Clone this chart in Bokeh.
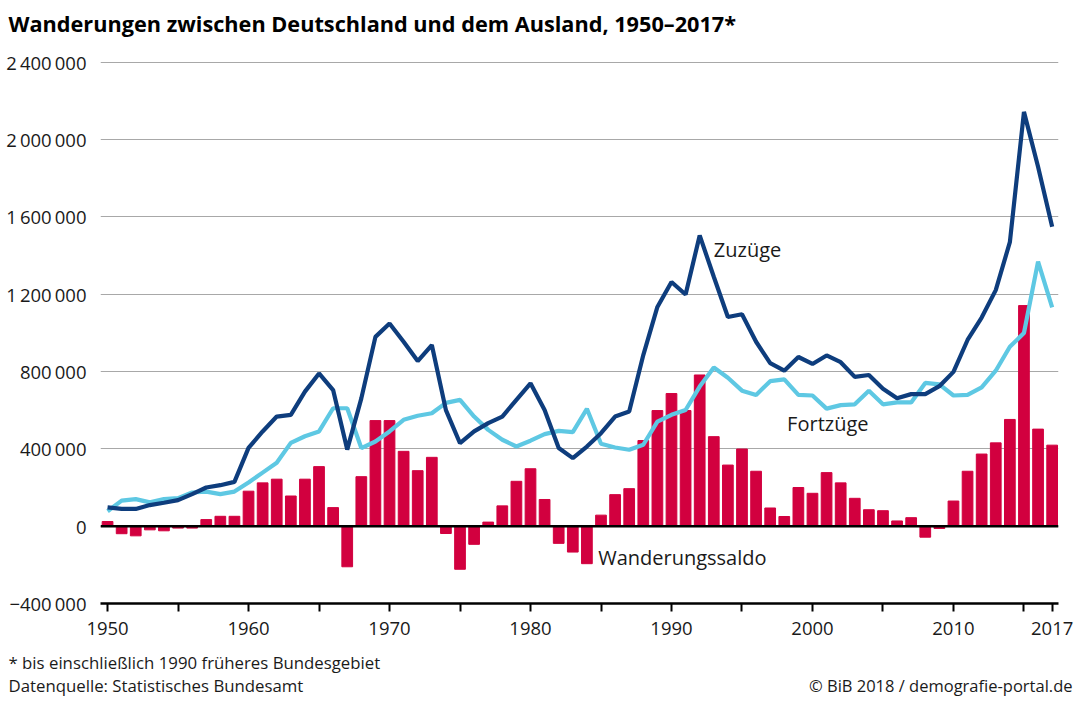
from bokeh.plotting import figure
from bokeh.models import FixedTicker, Span, Label, ColumnDataSource
from bokeh.embed import file_html
from bokeh.resources import INLINE

years = list(range(1950, 2018))

zuzuege = [97000, 89000, 89000, 109000, 121000, 135000, 166000, 200000, 212000, 229000,
           405000, 490000, 567000, 576000, 696000, 790000, 704000, 396000, 661000, 979000,
           1048000, 954000, 854000, 937000, 600000, 429000, 490000, 533000, 567000, 653000,
           739000, 601000, 404000, 352000, 412000, 481000, 567000, 593000, 885000, 1134000,
           1263000, 1198000, 1504000, 1290000, 1082000, 1096000, 954000, 843000, 804000, 875000,
           839000, 883000, 848000, 772000, 782000, 711000, 662000, 683000, 683000, 724000,
           798000, 963000, 1079000, 1221000, 1469000, 2143000, 1859000, 1549000]

fortzuege = [77000, 132000, 140000, 123000, 140000, 145000, 174000, 179000, 166000, 179000,
             226000, 277000, 328000, 431000, 465000, 490000, 610000, 610000, 404000, 438000,
             490000, 550000, 571000, 584000, 638000, 653000, 567000, 498000, 447000, 412000,
             442000, 476000, 493000, 486000, 607000, 426000, 407000, 395000, 421000, 541000,
             576000, 601000, 722000, 821000, 768000, 701000, 679000, 750000, 759000, 679000,
             676000, 608000, 626000, 630000, 701000, 630000, 640000, 640000, 741000, 733000,
             676000, 679000, 718000, 804000, 928000, 999000, 1368000, 1132000]

saldo = [24000, -39000, -50000, -19000, -24000, -10000, -10000, 34000, 51000, 51000,
         181000, 224000, 243000, 156000, 243000, 308000, 96000, -210000, 256000, 546000,
         546000, 387000, 287000, 356000, -38000, -223000, -94000, 21000, 105000, 232000,
         297000, 138000, -89000, -134000, -194000, 57000, 163000, 194000, 443000, 598000,
         686000, 598000, 782000, 463000, 316000, 399000, 284000, 94000, 50000, 200000,
         170000, 277000, 224000, 144000, 85000, 80000, 27000, 44000, -57000, -12000,
         130000, 284000, 373000, 431000, 552000, 1141000, 502000, 419000]

y_ticks = [-400000, 0, 400000, 800000, 1200000, 1600000, 2000000, 2400000]
y_tick_labels = ["\u2212400\u2009000", "0", "400\u2009000", "800\u2009000", "1\u2009200\u2009000",
                 "1\u2009600\u2009000", "2\u2009000\u2009000", "2\u2009400\u2009000"]
x_ticks = [1950, 1955, 1960, 1965, 1970, 1975, 1980, 1985, 1990, 1995, 2000, 2005, 2010, 2015, 2017]
x_tick_labels = ["1950", "", "1960", "", "1970", "", "1980", "", "1990", "", "2000", "", "2010", "", "2017"]

title_text = "Wanderungen zwischen Deutschland und dem Ausland, 1950\u20132017*"
note_text = "* bis einschließlich 1990 früheres Bundesgebiet"
source_text = "Datenquelle: Statistisches Bundesamt"
credit_text = "© BiB 2018 / demografie-portal.de"

FONT = "Open Sans"
DARK = "#0e3d7d"
LIGHT = "#5ec8e3"
RED = "#d2003f"
TXT = "#1a1a1a"

W, H = 1080, 701
FL, FR, FT, FB = 100, 22, 48, 98
X0, X1 = 1949.5, 2017.45
Y0, Y1 = -400000, 2450000

src = ColumnDataSource(dict(year=years, zu=zuzuege, fort=fortzuege, saldo=saldo))

p = figure(width=W, height=H, output_backend="svg", toolbar_location=None,
           x_range=(X0, X1), y_range=(Y0, Y1),
           min_border_left=FL, min_border_right=FR, min_border_top=FT, min_border_bottom=FB)
p.title.visible = False
p.outline_line_color = None
p.background_fill_color = "white"
p.border_fill_color = "white"

p.vbar(x="year", top="saldo", bottom=0, width=0.76, color=RED, source=src)
p.add_layout(Span(location=0, dimension="width", line_color="black", line_width=2.5))
p.line("year", "fort", source=src, line_color=LIGHT, line_width=4.2)
p.line("year", "zu", source=src, line_color=DARK, line_width=4.2)

p.xgrid.grid_line_color = None
p.ygrid.grid_line_color = "#a8a8a8"
p.ygrid.grid_line_width = 1.2
p.ygrid.ticker = FixedTicker(ticks=y_ticks[1:])

p.yaxis.ticker = FixedTicker(ticks=y_ticks)
p.yaxis.major_label_overrides = {t: l for t, l in zip(y_ticks, y_tick_labels)}
p.yaxis.axis_line_color = None
p.yaxis.major_tick_line_color = None
p.yaxis.minor_tick_line_color = None
p.yaxis.major_label_standoff = 8
p.yaxis.major_label_text_font = FONT
p.yaxis.major_label_text_font_size = "18.5px"
p.yaxis.major_label_text_color = TXT

p.xaxis.ticker = FixedTicker(ticks=x_ticks)
p.xaxis.major_label_overrides = {t: l for t, l in zip(x_ticks, x_tick_labels)}
p.xaxis.axis_line_color = "black"
p.xaxis.axis_line_width = 2.5
p.xaxis.major_tick_line_color = "black"
p.xaxis.major_tick_line_width = 2
p.xaxis.major_tick_in = 0
p.xaxis.major_tick_out = 8
p.xaxis.minor_tick_line_color = None
p.xaxis.major_label_standoff = 10
p.xaxis.major_label_text_font = FONT
p.xaxis.major_label_text_font_size = "18.5px"
p.xaxis.major_label_text_color = TXT

for txt, x, y in [("Zuzüge", 1993.0, 1430000), ("Fortzüge", 1998.2, 530000), ("Wanderungssaldo", 1984.8, -160000)]:
    p.add_layout(Label(x=x, y=y, text=txt, text_font=FONT, text_font_size="20px",
                       text_color=TXT, text_baseline="middle", text_align="left"))

# Texts outside the plot frame: labels placed in side panels (so they are not clipped),
# positioned through the plot's own scales from canvas pixel positions.
fw = W - FL - FR
fh = H - FT - FB
def px_to_x(px):
    return X0 + (px - FL) * (X1 - X0) / fw
def py_to_y(py):
    return Y1 - (py - FT) * (Y1 - Y0) / fh

def outer_label(text, px, py, side, **kw):
    p.add_layout(Label(x=px_to_x(px), y=py_to_y(py), text=text, text_font=FONT,
                       text_baseline="middle", **kw), side)

outer_label(title_text, 8, 19, "above", text_font_size="21.7px", text_font_style="bold",
            text_color="black", text_align="left")
outer_label(credit_text, 1072, 686, "above", text_font_size="16.5px", text_color=TXT,
            text_align="right")
outer_label(note_text, 8, 662, "below", text_font_size="16.8px", text_color=TXT, text_align="left")
outer_label(source_text, 8, 686, "below", text_font_size="16.8px", text_color=TXT, text_align="left")

open("out.html", "w").write(file_html(p, INLINE))
